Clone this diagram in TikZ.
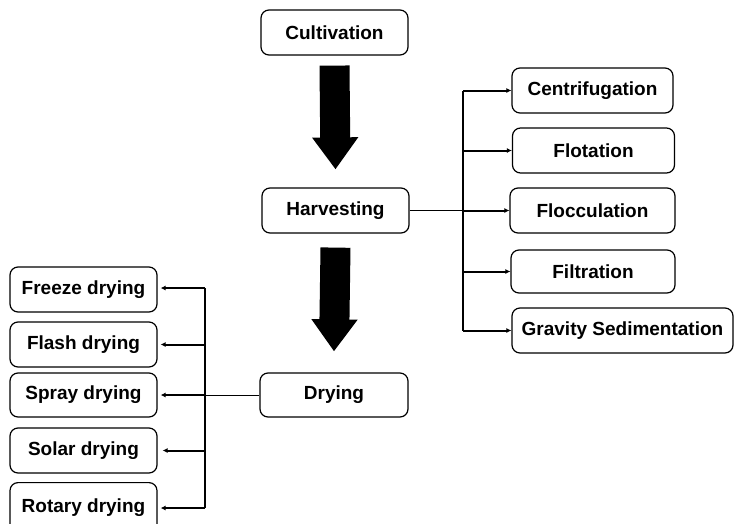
\documentclass[tikz,border=0pt]{standalone}
\usepackage{fontspec}
\setmainfont{Liberation Sans}
\usetikzlibrary{arrows.meta}
\begin{document}
\begin{tikzpicture}[x=1pt,y=-1pt,
  box/.style={draw=black,line width=1.2pt,rounded corners=8pt,fill=white,
    minimum height=45pt,inner sep=0pt,
    font=\fontsize{19}{22}\selectfont\bfseries},
  bigarrow/.style={line width=30pt,-{Triangle[width=44pt,length=32pt]}},
  trunk/.style={line width=2pt},
  feed/.style={line width=1pt},
  branch/.style={line width=2pt,-{Latex[length=5pt,width=5pt]}}]
\useasboundingbox (0,0) rectangle (734,523);

% main process chain
\node[box,minimum width=147pt] (cult) at (334.5,32.5) {Cultivation};
\node[box,minimum width=147pt] (harv) at (335.5,210.5) {Harvesting};
\node[box,minimum width=148pt,minimum height=44pt] (dry) at (334,395) {Drying};

\draw[bigarrow] ([yshift=-10pt]cult.south) -- ([yshift=18pt]harv.north);
\draw[bigarrow] ([yshift=-14pt]harv.south) -- ([yshift=21pt]dry.north);

% harvesting methods
\node[box,minimum width=161pt] (cent) at (592.5,90.5) {Centrifugation};
\node[box,minimum width=162pt] (flot) at (593.5,150.5) {Flotation};
\node[box,minimum width=165pt] (floc) at (592.5,210.5) {Flocculation};
\node[box,minimum width=164pt,minimum height=43pt] (filt) at (593,271.5) {Filtration};
\node[box,minimum width=221pt] (grav) at (622.5,330.5) {Gravity Sedimentation};

\coordinate (rtop) at (463,90.5);
\coordinate (rbot) at (463,330.5);
\draw[trunk] (rtop) -- (rbot);
\draw[feed] (harv.east) -- (rtop |- harv.east);
\foreach \n in {cent,flot,floc,filt,grav}
  \draw[branch] (rtop |- \n.west) -- (\n.west);

% drying methods
\node[box,minimum width=147pt] (freeze) at (83.5,289.5) {Freeze drying};
\node[box,minimum width=147pt] (flash) at (83.5,344.5) {Flash drying};
\node[box,minimum width=147pt,minimum height=44pt] (spray) at (83.5,395) {Spray drying};
\node[box,minimum width=147pt] (solar) at (83.5,450.5) {Solar drying};
% last box runs past the lower edge of the page
\node[box,minimum width=147pt,minimum height=0pt,text height=29.8pt,text depth=26.2pt,
  anchor=north] (rotary) at (83.5,482) {Rotary drying};

\coordinate (ltop) at (205,288);
\coordinate (lbot) at (205,508);
\draw[trunk] (ltop) -- (lbot);
\draw[feed] (dry.west) -- (ltop |- dry.west);
\draw[branch] (ltop) -- ([xshift=3pt]freeze.east |- ltop);
\draw[branch] (ltop |- flash.east) -- ([xshift=3pt]flash.east);
\draw[branch] (ltop |- spray.east) -- ([xshift=3pt]spray.east);
\draw[branch] (ltop |- solar.east) -- ([xshift=5pt]solar.east);
\draw[branch] (lbot) -- ([xshift=3pt]rotary.east |- lbot);
\end{tikzpicture}
\end{document}
